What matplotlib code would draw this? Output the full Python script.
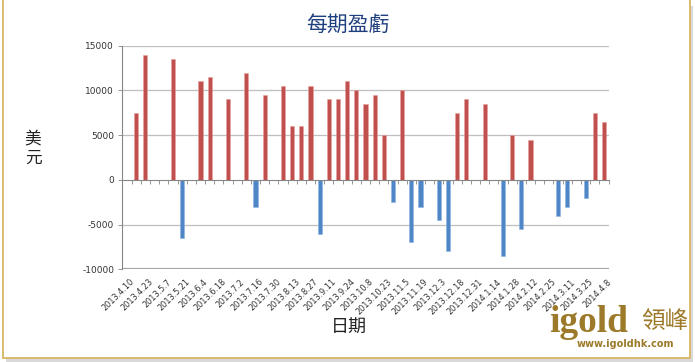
import matplotlib
matplotlib.use("Agg")
import matplotlib.pyplot as plt
from matplotlib.patches import Rectangle
import matplotlib.transforms as mtransforms

plt.rcParams["font.family"] = ["Noto Sans CJK TC", "DejaVu Sans"]

# weekly P/L, one slot per week (0 = no trade that week)
values = [0, 7500, 14000, 0, 0, 13500, -6500, 0, 11000, 11500,
          0, 9000, 0, 12000, -3000, 9500, 0, 10500, 6000, 6000,
          10500, -6000, 9000, 9000, 11000, 10000, 8500, 9500, 5000, -2500,
          10000, -7000, -3000, 0, -4500, -8000, 7500, 9000, 0, 8500,
          0, -8500, 5000, -5500, 4500, 0, 0, -4000, -3000, 0,
          -2000, 7500, 6500]
# every second week carries a label
date_labels = ["2013.4.10", "2013.4.23", "2013.5.7", "2013.5.21", "2013.6.4",
               "2013.6.18", "2013.7.2", "2013.7.16", "2013.7.30", "2013.8.13",
               "2013.8.27", "2013.9.11", "2013.9.24", "2013.10.8", "2013.10.23",
               "2013.11.5", "2013.11.19", "2013.12.3", "2013.12.18", "2013.12.31",
               "2014.1.14", "2014.1.28", "2014.2.12", "2014.2.25", "2014.3.11",
               "2014.3.25", "2014.4.8"]
yticks = [-10000, -5000, 0, 5000, 10000, 15000]

RED, BLUE, GOLD = "#C0504D", "#4F86C6", "#9C7A2A"
W, H = 695, 362

fig = plt.figure(figsize=(W / 100, H / 100), dpi=100)
fig.patch.set_facecolor("white")

# gold frame with a soft shadow
fig.patches.append(Rectangle((6 / W, -2 / H), 687 / W, 358 / H, transform=fig.transFigure,
                             facecolor="#D9D9D9", edgecolor="none", zorder=-2))
fig.patches.append(Rectangle((3 / W, 4 / H), 687 / W, 360 / H, transform=fig.transFigure,
                             facecolor="white", edgecolor="#D8B565", lw=1.3, zorder=-1))

ax = fig.add_axes([122.5 / W, 1 - 269.3 / H, 486 / W, (269.3 - 45.7) / H])
n = len(values)
x = list(range(n))
cols = [RED if v > 0 else BLUE for v in values]
edges = ["#E8A09E" if v > 0 else "#8DB3E2" for v in values]
ax.bar(x, values, width=0.45, color=cols, edgecolor=edges, lw=0.4, zorder=3)

ax.set_xlim(-0.5, n - 0.5)
ax.set_ylim(-10000, 15000)
ax.set_yticks(yticks)
ax.set_yticklabels([str(t) for t in yticks], fontsize=6.5, family="DejaVu Sans", color="#333333")
ax.tick_params(axis="y", length=3, width=0.6, color="#868686", pad=3)
for t in yticks:
    if t == 0:
        continue
    ax.axhline(t, color="#A6A6A6" if t == -10000 else "#BFBFBF",
               lw=1.6 if t == -10000 else 0.9, zorder=1)

for s in ["top", "right"]:
    ax.spines[s].set_visible(False)
ax.spines["left"].set_color("#868686")
ax.spines["left"].set_linewidth(0.8)
ax.spines["bottom"].set_position(("data", 0))
ax.spines["bottom"].set_color("#868686")
ax.spines["bottom"].set_linewidth(0.8)
ax.spines["bottom"].set_zorder(4)
ax.set_xticks([i - 0.5 for i in range(n + 1)])
ax.set_xticklabels([])
ax.tick_params(axis="x", length=3, width=0.6, color="#868686", direction="out")

trans = mtransforms.blended_transform_factory(ax.transData, ax.transAxes)
offset = mtransforms.ScaledTranslation(3 / 100, -8 / 100, fig.dpi_scale_trans)
for k, lab in enumerate(date_labels):
    ax.text(2 * k, 0, lab, transform=trans + offset, rotation=45, rotation_mode="anchor",
            ha="right", va="top", fontsize=5.9, family="DejaVu Sans", color="#333333")

fig.text(348 / W, 1 - 25 / H, "每期盈虧", ha="center", va="center", fontsize=15,
         color="#1F3F7F")
fig.text(33 / W, 1 - 149 / H, "美\n元", ha="center", va="center", fontsize=12,
         color="#222222", linespacing=1.1)
fig.text(349 / W, 1 - 328 / H, "日期", ha="center", va="center", fontsize=13,
         color="#222222")

# logo
fig.text(589 / W, 1 - 322 / H, "igold", ha="center", va="center", fontsize=27,
         family="Liberation Serif", weight="bold", color=GOLD)
fig.text(665 / W, 1 - 321 / H, "領峰", ha="center", va="center", fontsize=17,
         color=GOLD)
fig.text(625 / W, 1 - 344 / H, "www.igoldhk.com", ha="center", va="center", fontsize=7,
         family="DejaVu Sans", weight="bold", color=GOLD)

fig.savefig("out.png", dpi=100)
